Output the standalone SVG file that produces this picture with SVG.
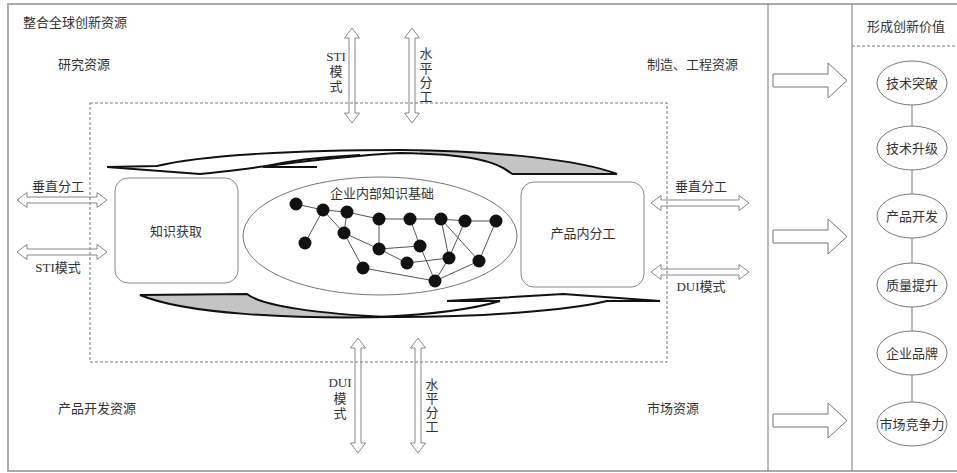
<svg xmlns="http://www.w3.org/2000/svg" width="957" height="473" viewBox="0 0 957 473">
<style>
text{font-family:"Liberation Serif","Noto Sans CJK SC",serif;font-size:13px;fill:#333;}
.c{text-anchor:middle;}
.frame{fill:none;stroke:#aaa;stroke-width:2;}
.sep{stroke:#777;stroke-width:1;fill:none;}
.dash{fill:none;stroke:#777;stroke-width:1;stroke-dasharray:3,2;}
.dbl{fill:none;stroke:#888;stroke-width:1;}
.blk{fill:#fff;stroke:#777;stroke-width:1;}
.box{fill:#fff;stroke:#888;stroke-width:1;}
.sw{fill:none;stroke:#111;stroke-width:2;}
.swg{fill:#c4c4c4;stroke:#111;stroke-width:2;}
.nd{fill:#111;}
.ed{stroke:#555;stroke-width:1;}
.ov{fill:#fff;stroke:#777;stroke-width:1;}
</style>
<rect width="957" height="473" fill="#fff"/>
<g id="frame">
<rect class="frame" x="8" y="4" width="960" height="467"/>
<line class="sep" x1="768" y1="4" x2="768" y2="471"/>
<line class="sep" x1="852" y1="4" x2="852" y2="471"/>
<line class="dash" x1="852" y1="46" x2="957" y2="46"/>
</g>
<g id="labels">
<text x="23" y="27">整合全球创新资源</text>
<text x="58" y="69">研究资源</text>
<text x="647" y="69">制造、工程资源</text>
<text x="58" y="413">产品开发资源</text>
<text x="647" y="413">市场资源</text>
<text class="c" x="906" y="31">形成创新价值</text>
</g>
<g id="core-area">
<rect class="dash" x="90" y="103" width="577" height="259"/>
</g>
<g id="swooshes">
<path d="M420,150 C505,151 580,160 617,174 L512,174 C497,161 470,155 420,153 Z" fill="#c4c4c4"/>
<path class="sw" d="M107,167 L157,166 C200,155 300,150 400,150 C500,151 580,160 617,174 L512,174"/>
<path class="sw" d="M107,167 L200,174 C260,168 320,157 400,153 C470,154 497,161 512,174"/>
<path class="sw" d="M317,167 L263,167 C290,160 320,157 360,155"/>
<path class="swg" d="M140,295 L247,294 C262,306 320,314 390,317 C290,319 185,314 140,295 Z"/>
<path class="sw" d="M380,317 C480,318 570,310 607,301 L660,301"/>
<path class="sw" d="M447,301 L563,294 L660,301"/>
<path class="sw" d="M447,301 L500,301 C470,310 420,315 380,317"/>
</g>
<g id="knowledge-acquisition">
<rect class="box" x="115" y="178" width="123" height="105" rx="13"/>
<text class="c" x="176" y="236">知识获取</text>
</g>
<g id="product-division">
<rect class="box" x="521" y="182" width="123" height="105" rx="13"/>
<text class="c" x="583" y="238">产品内分工</text>
</g>
<g id="knowledge-base">
<ellipse class="ov" cx="380" cy="236" rx="137" ry="59"/>
<text class="c" x="382" y="198">企业内部知识基础</text>
<g id="network-edges">
<line class="ed" x1="296" y1="204" x2="323" y2="210"/>
<line class="ed" x1="323" y1="210" x2="347" y2="212"/>
<line class="ed" x1="323" y1="210" x2="305" y2="243"/>
<line class="ed" x1="323" y1="210" x2="344" y2="233"/>
<line class="ed" x1="347" y1="212" x2="344" y2="233"/>
<line class="ed" x1="347" y1="212" x2="379" y2="219"/>
<line class="ed" x1="379" y1="219" x2="410" y2="219"/>
<line class="ed" x1="410" y1="219" x2="441" y2="219"/>
<line class="ed" x1="441" y1="219" x2="465" y2="221"/>
<line class="ed" x1="465" y1="221" x2="496" y2="221"/>
<line class="ed" x1="379" y1="219" x2="379" y2="249"/>
<line class="ed" x1="344" y1="233" x2="379" y2="249"/>
<line class="ed" x1="344" y1="233" x2="363" y2="268"/>
<line class="ed" x1="379" y1="249" x2="420" y2="246"/>
<line class="ed" x1="379" y1="249" x2="407" y2="263"/>
<line class="ed" x1="407" y1="263" x2="449" y2="258"/>
<line class="ed" x1="410" y1="219" x2="420" y2="246"/>
<line class="ed" x1="420" y1="246" x2="435" y2="281"/>
<line class="ed" x1="363" y1="268" x2="435" y2="281"/>
<line class="ed" x1="441" y1="219" x2="449" y2="258"/>
<line class="ed" x1="441" y1="219" x2="479" y2="261"/>
<line class="ed" x1="465" y1="221" x2="449" y2="258"/>
<line class="ed" x1="496" y1="221" x2="479" y2="261"/>
<line class="ed" x1="449" y1="258" x2="435" y2="281"/>
<line class="ed" x1="479" y1="261" x2="435" y2="281"/>
</g>
<g id="network-nodes">
<circle class="nd" cx="296" cy="204" r="6.5"/>
<circle class="nd" cx="323" cy="210" r="6.5"/>
<circle class="nd" cx="347" cy="212" r="6.5"/>
<circle class="nd" cx="379" cy="219" r="6.5"/>
<circle class="nd" cx="410" cy="219" r="6.5"/>
<circle class="nd" cx="441" cy="219" r="6.5"/>
<circle class="nd" cx="465" cy="221" r="6.5"/>
<circle class="nd" cx="496" cy="221" r="6.5"/>
<circle class="nd" cx="305" cy="243" r="6.5"/>
<circle class="nd" cx="344" cy="233" r="6.5"/>
<circle class="nd" cx="379" cy="249" r="6.5"/>
<circle class="nd" cx="420" cy="246" r="6.5"/>
<circle class="nd" cx="363" cy="268" r="6.5"/>
<circle class="nd" cx="407" cy="263" r="6.5"/>
<circle class="nd" cx="449" cy="258" r="6.5"/>
<circle class="nd" cx="479" cy="261" r="6.5"/>
<circle class="nd" cx="435" cy="281" r="6.5"/>
</g>
</g>
<g id="connectors">
<polygon class="dbl" points="352,28 359.5,38 355,38 355,113 359.5,113 352,123 344.5,113 349,113 349,38 344.5,38"/>
<polygon class="dbl" points="412,28 419.5,38 415,38 415,113 419.5,113 412,123 404.5,113 409,113 409,38 404.5,38"/>
<polygon class="dbl" points="358,338 365.5,348 361,348 361,443 365.5,443 358,453 350.5,443 355,443 355,348 350.5,348"/>
<polygon class="dbl" points="418,338 425.5,348 421,348 421,443 425.5,443 418,453 410.5,443 415,443 415,348 410.5,348"/>
<polygon class="dbl" points="17,200 27,192.5 27,197 97,197 97,192.5 107,200 97,207.5 97,203 27,203 27,207.5"/>
<polygon class="dbl" points="17,252 27,244.5 27,249 97,249 97,244.5 107,252 97,259.5 97,255 27,255 27,259.5"/>
<polygon class="dbl" points="651,203 661,195.5 661,200 739,200 739,195.5 749,203 739,210.5 739,206 661,206 661,210.5"/>
<polygon class="dbl" points="651,272 661,264.5 661,269 739,269 739,264.5 749,272 739,279.5 739,275 661,275 661,279.5"/>
<polygon class="blk" points="773,74 828,74 828,63 847,80.5 828,98 828,87 773,87"/>
<polygon class="blk" points="773,230 828,230 828,219 847,236.5 828,254 828,243 773,243"/>
<polygon class="blk" points="773,414 828,414 828,403 847,420.5 828,438 828,427 773,427"/>
<line class="sep" x1="912" y1="105" x2="912" y2="126"/>
<line class="sep" x1="912" y1="170" x2="912" y2="194"/>
<line class="sep" x1="912" y1="238" x2="912" y2="263"/>
<line class="sep" x1="912" y1="307" x2="912" y2="331"/>
<line class="sep" x1="912" y1="375" x2="912" y2="402"/>
</g>
<g id="arrow-labels">
<text class="c" x="336" y="61">STI</text>
<text class="c" x="336" y="76">模</text>
<text class="c" x="336" y="91">式</text>
<text class="c" x="426" y="58">水</text>
<text class="c" x="426" y="73">平</text>
<text class="c" x="426" y="87">分</text>
<text class="c" x="426" y="101">工</text>
<text class="c" x="340" y="387">DUI</text>
<text class="c" x="340" y="403">模</text>
<text class="c" x="340" y="418">式</text>
<text class="c" x="432" y="389">水</text>
<text class="c" x="432" y="403">平</text>
<text class="c" x="432" y="417">分</text>
<text class="c" x="432" y="431">工</text>
<text class="c" x="58" y="191">垂直分工</text>
<text class="c" x="58" y="272">STI模式</text>
<text class="c" x="701" y="191">垂直分工</text>
<text class="c" x="701" y="291">DUI模式</text>
</g>
<g id="v1"><ellipse class="ov" cx="912" cy="83" rx="35" ry="22"/><text class="c" x="912" y="88">技术突破</text></g>
<g id="v2"><ellipse class="ov" cx="912" cy="148" rx="35" ry="22"/><text class="c" x="912" y="153">技术升级</text></g>
<g id="v3"><ellipse class="ov" cx="912" cy="216" rx="35" ry="22"/><text class="c" x="912" y="221">产品开发</text></g>
<g id="v4"><ellipse class="ov" cx="912" cy="285" rx="35" ry="22"/><text class="c" x="912" y="290">质量提升</text></g>
<g id="v5"><ellipse class="ov" cx="912" cy="353" rx="35" ry="22"/><text class="c" x="912" y="358">企业品牌</text></g>
<g id="v6"><ellipse class="ov" cx="912" cy="424" rx="35" ry="22"/><text class="c" x="912" y="429">市场竞争力</text></g>
</svg>
